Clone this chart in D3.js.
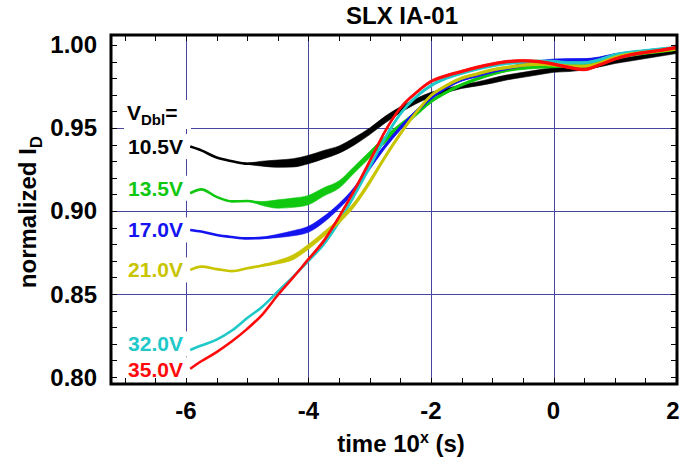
<!DOCTYPE html>
<html>
<head>
<meta charset="utf-8">
<script src="https://cdn.jsdelivr.net/npm/d3@7/dist/d3.min.js"></script>
<style>
  html, body { margin: 0; padding: 0; background: #fff; }
  svg { display: block; }
  text { font-family: "Liberation Sans", Arial, Helvetica, sans-serif; font-weight: bold; }
</style>
</head>
<body>
<svg id="chart" width="681" height="464"></svg>
<script>
// log10 of time (s) at which each trace is sampled
const times = [-5.93, -5.75, -5.5, -5.25, -5.0, -4.75, -4.5, -4.25, -4.0, -3.75, -3.5, -3.25,
  -3.0, -2.75, -2.5, -2.25, -2.0, -1.75, -1.5, -1.25, -1.0, -0.75, -0.5, -0.25,
  0, 0.25, 0.5, 0.75, 1.0, 1.25, 1.5, 1.75, 2.0];

// normalized drain current for each V_Dbl
const id105 = [0.9388, 0.9365, 0.9322, 0.9300, 0.9285, 0.9285, 0.9285, 0.9290, 0.9310, 0.9340, 0.9370, 0.9420,
  0.9480, 0.9550, 0.9610, 0.9660, 0.9700, 0.9725, 0.9750, 0.9765, 0.9785, 0.9805, 0.9820, 0.9835,
  0.9850, 0.9855, 0.9865, 0.9880, 0.9900, 0.9915, 0.9930, 0.9945, 0.9960];
const id135 = [0.9107, 0.9130, 0.9085, 0.9058, 0.9060, 0.9045, 0.9042, 0.9050, 0.9066, 0.9115, 0.9160, 0.9250,
  0.9340, 0.9430, 0.9510, 0.9585, 0.9660, 0.9715, 0.9760, 0.9795, 0.9825, 0.9848, 0.9860, 0.9867,
  0.9870, 0.9875, 0.9880, 0.9900, 0.9920, 0.9940, 0.9952, 0.9962, 0.9975];
const id170 = [0.8886, 0.8876, 0.8855, 0.8843, 0.8835, 0.8838, 0.8850, 0.8866, 0.8890, 0.8950, 0.9030, 0.9130,
  0.9265, 0.9390, 0.9500, 0.9595, 0.9680, 0.9745, 0.9790, 0.9815, 0.9840, 0.9860, 0.9880, 0.9895,
  0.9905, 0.9908, 0.9910, 0.9920, 0.9940, 0.9952, 0.9962, 0.9970, 0.9980];
const id210 = [0.8645, 0.8665, 0.8650, 0.8638, 0.8655, 0.8672, 0.8692, 0.8722, 0.8785, 0.8860, 0.8940, 0.9040,
  0.9175, 0.9325, 0.9465, 0.9590, 0.9695, 0.9755, 0.9800, 0.9825, 0.9850, 0.9865, 0.9878, 0.9885,
  0.9880, 0.9872, 0.9872, 0.9890, 0.9925, 0.9945, 0.9955, 0.9965, 0.9976];
const id320 = [0.8163, 0.8190, 0.8225, 0.8280, 0.8355, 0.8425, 0.8515, 0.8605, 0.8700, 0.8800, 0.8935, 0.9095,
  0.9265, 0.9440, 0.9585, 0.9685, 0.9755, 0.9800, 0.9830, 0.9855, 0.9875, 0.9890, 0.9898, 0.9902,
  0.9900, 0.9892, 0.9892, 0.9910, 0.9940, 0.9955, 0.9965, 0.9975, 0.9984];
const id350 = [0.8050, 0.8095, 0.8150, 0.8215, 0.8290, 0.8378, 0.8494, 0.8600, 0.8710, 0.8820, 0.8965, 0.9125,
  0.9300, 0.9480, 0.9620, 0.9710, 0.9780, 0.9815, 0.9840, 0.9865, 0.9885, 0.9900, 0.9905, 0.9900,
  0.9885, 0.9865, 0.9852, 0.9880, 0.9915, 0.9940, 0.9955, 0.9968, 0.9984];

// half-width of the measurement noise band around each trace
const nz105 = [0, 0, 0, 0, 0.0004, 0.0015, 0.0022, 0.0025, 0.0025, 0.0025, 0.0022, 0.0022,
  0.0020, 0.0020, 0.0018, 0.0015, 0.0015, 0.0012, 0.0012, 0.0012, 0.0015, 0.0015, 0.0015, 0.0015,
  0.0015, 0.0015, 0.0015, 0.0012, 0.0012, 0.0012, 0.0012, 0.0012, 0.0012];
const nz135 = [0, 0, 0, 0, 0, 0.0012, 0.0025, 0.0028, 0.0028, 0.0025, 0.0022, 0.0020,
  0.0020, 0.0020, 0.0018, 0.0015, 0.0010, 0.0008, 0.0008, 0.0008, 0.0008, 0.0008, 0.0008, 0.0008,
  0.0008, 0.0008, 0.0008, 0.0008, 0.0008, 0.0008, 0.0008, 0.0008, 0.0008];
const nz170 = [0, 0, 0, 0, 0, 0.0004, 0.0010, 0.0015, 0.0018, 0.0018, 0.0015, 0.0015,
  0.0015, 0.0012, 0.0012, 0.0010, 0.0008, 0.0008, 0.0008, 0.0008, 0.0008, 0.0008, 0.0010, 0.0010,
  0.0010, 0.0010, 0.0008, 0.0008, 0.0008, 0.0008, 0.0008, 0.0008, 0.0008];
const nz210 = [0, 0, 0, 0, 0, 0.0005, 0.0010, 0.0015, 0.0015, 0.0015, 0.0015, 0.0015,
  0.0015, 0.0012, 0.0012, 0.0010, 0.0008, 0.0008, 0.0008, 0.0008, 0.0008, 0.0008, 0.0008, 0.0008,
  0.0008, 0.0008, 0.0008, 0.0008, 0.0008, 0.0008, 0.0008, 0.0008, 0.0008];
const nz320 = [0, 0, 0, 0, 0, 0, 0, 0.0004, 0.0006, 0.0008, 0.0008, 0.0008,
  0.0008, 0.0008, 0.0008, 0.0008, 0.0008, 0.0008, 0.0008, 0.0008, 0.0008, 0.0008, 0.0008, 0.0008,
  0.0008, 0.0008, 0.0008, 0.0008, 0.0008, 0.0008, 0.0008, 0.0008, 0.0008];
const nz350 = [0, 0, 0, 0, 0, 0, 0, 0.0004, 0.0006, 0.0008, 0.0008, 0.0008,
  0.0008, 0.0008, 0.0008, 0.0008, 0.0008, 0.0008, 0.0008, 0.0008, 0.0008, 0.0008, 0.0008, 0.0008,
  0.0008, 0.0008, 0.0008, 0.0008, 0.0008, 0.0008, 0.0008, 0.0008, 0.0008];

const seriesNames = ["10.5V", "13.5V", "17.0V", "21.0V", "32.0V", "35.0V"];
const xTickValues = [-6, -4, -2, 0, 2];
const yTickValues = [0.80, 0.85, 0.90, 0.95, 1.00];

// styling
const colors = ["#000000", "#10c810", "#1414f0", "#c8c400", "#20c8c8", "#ff0a0a"];
const labelNudge = [0, -5, 0, 0, -6, 1];

const seriesValues = [id105, id135, id170, id210, id320, id350];
const seriesNoise = [nz105, nz135, nz170, nz210, nz320, nz350];
const series = seriesNames.map((name, i) => ({
  name, color: colors[i], nudge: labelNudge[i],
  pts: times.map((t, j) => ({ t, v: seriesValues[i][j], n: seriesNoise[i][j] }))
}));

const svg = d3.select("#chart");
const L = 111, R = 677, T = 35, B = 384;
const x = d3.scaleLinear().domain([-7.224, 2.016]).range([L, R]);
const y = d3.scaleLinear().domain([0.7958, 1.006]).range([B, T]);
const gridColor = "#4646a0";

// grid
const grid = svg.append("g");
grid.selectAll("line.v").data(xTickValues.filter(d => d < 2)).join("line")
  .attr("x1", d => Math.round(x(d)) + 0.5).attr("x2", d => Math.round(x(d)) + 0.5)
  .attr("y1", T).attr("y2", B)
  .attr("stroke", gridColor).attr("stroke-width", 1);
grid.selectAll("line.h").data(yTickValues.filter(d => d > 0.81 && d < 0.99)).join("line")
  .attr("x1", L).attr("x2", R)
  .attr("y1", d => Math.round(y(d)) + 0.5).attr("y2", d => Math.round(y(d)) + 0.5)
  .attr("stroke", gridColor).attr("stroke-width", 1);

// traces: noise band plus centre line
const area = d3.area().curve(d3.curveMonotoneX)
  .x(d => x(d.t)).y0(d => y(d.v - d.n)).y1(d => y(d.v + d.n));
const line = d3.line().curve(d3.curveMonotoneX)
  .x(d => x(d.t)).y(d => y(d.v));

const labelLayer = svg.append("g");
const traceLayer = svg.append("g");
const drawOrder = [0, 1, 2, 4, 3, 5];
drawOrder.forEach(i => {
  const s = series[i];
  traceLayer.append("path").datum(s.pts).attr("d", area)
    .attr("fill", s.color).attr("stroke", s.color).attr("stroke-width", 0.6).attr("stroke-linejoin", "round");
  traceLayer.append("path").datum(s.pts).attr("d", line)
    .attr("fill", "none").attr("stroke", s.color).attr("stroke-width", 2.6).attr("stroke-linejoin", "round");
});

// series labels with white backing boxes
function boxed(textSel) {
  const bb = textSel.node().getBBox();
  labelLayer.insert("rect", ":first-child")
    .attr("x", bb.x - 3).attr("y", bb.y - 1)
    .attr("width", 191 - (bb.x - 3)).attr("height", bb.height + 2)
    .attr("fill", "#fff");
}
const head = labelLayer.append("text").attr("x", 127).attr("y", 120).attr("font-size", 21).attr("fill", "#000");
head.append("tspan").text("V");
head.append("tspan").attr("font-size", 15).attr("dy", 5).text("Dbl");
head.append("tspan").attr("dy", -5).text("=");
boxed(head);
series.forEach(s => {
  const t = labelLayer.append("text")
    .attr("x", 183).attr("y", y(s.pts[0].v) + s.nudge + 7.5)
    .attr("text-anchor", "end").attr("font-size", 21).attr("fill", s.color)
    .text(s.name);
  boxed(t);
});

// frame
svg.append("rect").attr("x", L).attr("y", T).attr("width", R - L).attr("height", B - T)
  .attr("fill", "none").attr("stroke", "#000").attr("stroke-width", 3);

// inward minor ticks on all four sides
const xMinor = d3.range(-7, 2.01, 0.5);
const yMinor = d3.range(0, 21).map(k => 0.80 + k * 0.01);
const tk = svg.append("g").attr("stroke", "#000").attr("stroke-width", 1);
xMinor.forEach(v => {
  const px = Math.round(x(v)) + 0.5;
  tk.append("line").attr("x1", px).attr("x2", px).attr("y1", B).attr("y2", B - 6);
  tk.append("line").attr("x1", px).attr("x2", px).attr("y1", T).attr("y2", T + 6);
});
yMinor.forEach(v => {
  const py = Math.round(y(v)) + 0.5;
  tk.append("line").attr("x1", L).attr("x2", L + 6).attr("y1", py).attr("y2", py);
  tk.append("line").attr("x1", R).attr("x2", R - 6).attr("y1", py).attr("y2", py);
});

// axis tick labels
svg.append("g").selectAll("text").data(xTickValues).join("text")
  .attr("x", d => Math.min(x(d), 673)).attr("y", 419).attr("text-anchor", "middle").attr("font-size", 24)
  .text(d => d3.format("d")(d).replace("−", "-"));
svg.append("g").selectAll("text").data(yTickValues).join("text")
  .attr("x", 97).attr("y", d => y(d) + 8.5).attr("text-anchor", "end").attr("font-size", 24)
  .text(d => d3.format(".2f")(d));

// titles
svg.append("text").attr("x", 402).attr("y", 24).attr("text-anchor", "middle").attr("font-size", 24)
  .text("SLX IA-01");
const xt = svg.append("text").attr("x", 401).attr("y", 452).attr("text-anchor", "middle").attr("font-size", 24);
xt.append("tspan").text("time 10");
xt.append("tspan").attr("font-size", 16).attr("dy", -9).text("x");
xt.append("tspan").attr("dy", 9).text(" (s)");
const yt = svg.append("text").attr("transform", "translate(36,212) rotate(-90)")
  .attr("text-anchor", "middle").attr("font-size", 24);
yt.append("tspan").text("normalized I");
yt.append("tspan").attr("font-size", 17).attr("dy", 6).text("D");
</script>
</body>
</html>
